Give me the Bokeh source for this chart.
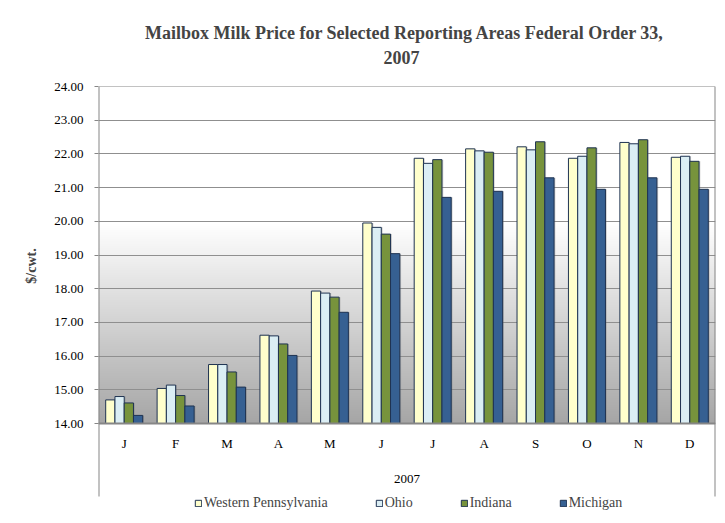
import numpy as np
from bokeh.plotting import figure
from bokeh.models import (Range1d, FixedTicker, NumeralTickFormatter, Legend,
                          LegendItem, ColumnDataSource, Span)
from bokeh.core.properties import value
from bokeh.transform import dodge
from bokeh.embed import file_html
from bokeh.resources import INLINE

# ---- data ----
months = ["J", "F", "M", "A", "M", "J", "J", "A", "S", "O", "N", "D"]
year_label = "2007"
series_names = ["Western Pennsylvania", "Ohio", "Indiana", "Michigan"]
western_pa = [14.70, 15.04, 15.75, 16.62, 17.93, 19.95, 21.87, 22.15, 22.21, 21.87, 22.34, 21.90]
ohio = [14.80, 15.14, 15.75, 16.60, 17.87, 19.82, 21.72, 22.09, 22.12, 21.93, 22.30, 21.93]
indiana = [14.61, 14.83, 15.53, 16.36, 17.75, 19.62, 21.83, 22.05, 22.36, 22.18, 22.42, 21.78]
michigan = [14.24, 14.52, 15.08, 16.02, 17.30, 19.04, 20.71, 20.89, 21.29, 20.95, 21.29, 20.95]
y_ticks = [14, 15, 16, 17, 18, 19, 20, 21, 22, 23, 24]
title_line1 = "Mailbox Milk Price for Selected  Reporting Areas Federal Order 33,"
title_line2 = "2007"
y_title = "$/cwt."

FONT = "Liberation Serif"
GRAY = "#868686"

y_min, y_max = y_ticks[0], y_ticks[-1]
px_per_unit = 33.7
cat_axis_px = 73            # height of the category-axis box below the value axis
legend_px = 19              # strip below the category box holding the legend
y_box = y_min - cat_axis_px / px_per_unit
y_lo = y_min - (cat_axis_px + legend_px) / px_per_unit

pos = list(range(1, len(months) + 1))
src = ColumnDataSource(dict(x=pos, wp=western_pa, oh=ohio, ind=indiana, mi=michigan))

p = figure(frame_width=617, frame_height=429, output_backend="svg", toolbar_location=None,
           x_range=Range1d(0.5, 12.5), y_range=Range1d(y_lo, y_max),
           x_axis_location=None,
           min_border_left=98, min_border_top=86, min_border_right=5,
           min_border_bottom=0)
p.background_fill_color = "white"
p.border_fill_color = "white"
p.outline_line_color = None

# two-line centred title (second line centred with no-break spaces)
p.title.text = title_line1 + "\n" + "\u00a0" * 53 + title_line2
p.title.align = "center"
p.title.text_font = FONT
p.title.text_font_size = "18px"
p.title.text_font_style = "bold"
p.title.text_line_height = 1.28
p.title.standoff = 36

# gradient background (white above ~19.9 down to gray at 14)
n = 200
shade = np.linspace(166, 255, n).astype(np.uint32)
img = np.zeros((n, 1), dtype=np.uint32)
img[:, 0] = (255 << 24) | (shade << 16) | (shade << 8) | shade
bg = p.image_rgba(image=[img], x=0.5, y=y_min, dw=12, dh=5.9)
bg.level = "image"

# grid
p.xgrid.visible = False
p.ygrid.ticker = FixedTicker(ticks=y_ticks)
p.ygrid.grid_line_color = "#8f8f8f"
p.ygrid.grid_line_width = 1

# plot area border: top line, and left/right sides down to the category box bottom
p.add_layout(Span(location=y_max, dimension="width", line_color=GRAY, line_width=1))
p.segment(x0=[0.5, 12.5], x1=[0.5, 12.5], y0=[y_box, y_box], y1=[y_max, y_max],
          line_color=GRAY, line_width=2)

# bars
colors = ["#FFFFCC", "#DBEEF4", "#77933C", "#366092"]
fields = ["wp", "oh", "ind", "mi"]
offsets = [-0.27, -0.09, 0.09, 0.27]
renderers = []
for f, c, o in zip(fields, colors, offsets):
    p.vbar(x=dodge("x", o + 0.025), top=f, bottom=y_min, width=0.18, source=src,
           fill_color="#6f6f6f", fill_alpha=0.35, line_color=None)
    r = p.vbar(x=dodge("x", o), top=f, bottom=y_min, width=0.18, source=src,
               fill_color=c, line_color="#1f3352", line_width=1)
    renderers.append(r)

# value-axis base line
p.add_layout(Span(location=y_min, dimension="width", line_color=GRAY, line_width=2))

# category labels
p.text(x=pos, y=[y_min] * len(pos), text=months, y_offset=20,
       text_align="center", text_baseline="middle", text_font=value(FONT),
       text_font_size="13px", text_color="black")
p.text(x=[float(np.mean(pos))], y=[y_min], text=[year_label], y_offset=55,
       text_align="center", text_baseline="middle", text_font=value(FONT),
       text_font_size="13px", text_color="black")

# y axis
p.yaxis.ticker = FixedTicker(ticks=y_ticks)
p.yaxis.formatter = NumeralTickFormatter(format="0.00")
p.yaxis.axis_line_color = None
p.yaxis.major_tick_line_color = GRAY
p.yaxis.major_tick_out = 4
p.yaxis.major_tick_in = 0
p.yaxis.minor_tick_line_color = None
p.yaxis.major_label_text_font = FONT
p.yaxis.major_label_text_font_size = "13px"
p.yaxis.major_label_text_color = "black"
p.yaxis.major_label_standoff = 11
# leading no-break spaces lift the rotated title to the centre of the value area
p.yaxis.axis_label = "\u00a0" * 20 + y_title
p.yaxis.axis_label_text_font = FONT
p.yaxis.axis_label_text_font_style = "bold"
p.yaxis.axis_label_text_font_size = "14px"
p.yaxis.axis_label_standoff = 12

# legend (in the strip below the category box)
legend = Legend(items=[LegendItem(label=nm, renderers=[r]) for nm, r in zip(series_names, renderers)],
                orientation="horizontal", border_line_color=None,
                background_fill_alpha=0, glyph_width=8, glyph_height=8,
                label_text_font=FONT, label_text_font_size="14px",
                spacing=47, label_standoff=2, padding=0, margin=0,
                location=(96, 4))
p.add_layout(legend)

open("out.html", "w").write(file_html(p, INLINE))
